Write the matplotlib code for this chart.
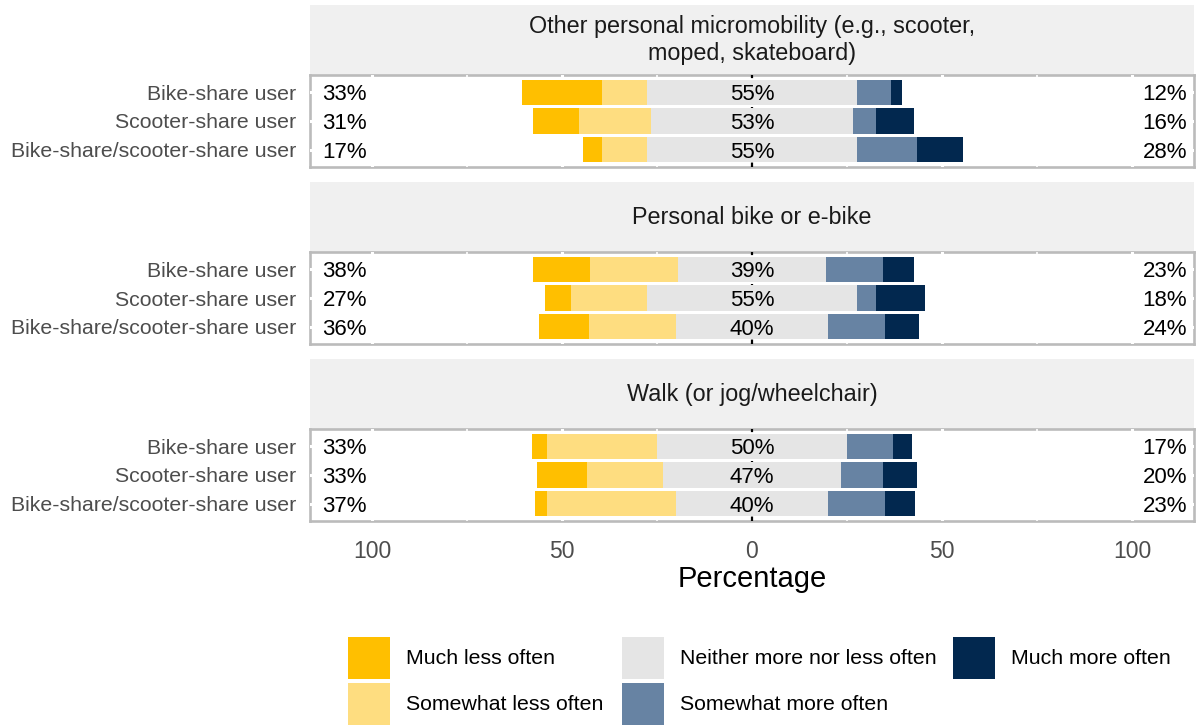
import numpy as np
import matplotlib.pyplot as plt
from matplotlib.patches import Rectangle

plt.rcParams['font.family'] = ['Liberation Sans', 'DejaVu Sans']

# Survey responses (percent of respondents), one row per panel, one column per user group
panels = ['Other personal micromobility (e.g., scooter,\nmoped, skateboard)',
          'Personal bike or e-bike',
          'Walk (or jog/wheelchair)']
groups = ['Bike-share user', 'Scooter-share user', 'Bike-share/scooter-share user']
levels = ['Much less often', 'Somewhat less often', 'Neither more nor less often',
          'Somewhat more often', 'Much more often']
colors = ['#FFBF00', '#FEDD80', '#E5E5E5', '#6783A3', '#02284F']

much_less = [[21, 12, 5], [15, 7, 13], [4, 13, 3]]
somewhat_less = [[12, 19, 12], [23, 20, 23], [29, 20, 34]]
neither = [[55, 53, 55], [39, 55, 40], [50, 47, 40]]
somewhat_more = [[9, 6, 16], [15, 5, 15], [12, 11, 15]]
much_more = [[3, 10, 12], [8, 13, 9], [5, 9, 8]]

W, H = 1198, 725
fig = plt.figure(figsize=(W / 100, H / 100), dpi=100)


def px_axes(x0, y0, x1, y1):
    return fig.add_axes([x0 / W, 1 - y1 / H, (x1 - x0) / W, (y1 - y0) / H])


strip_tops = [5, 182, 359]
strip_h = 70
panel_h = 92
x_left, x_right = 310, 1194
ypos = np.array([3, 2, 1])
fs = 16

for i, title in enumerate(panels):
    top = strip_tops[i]
    # facet strip
    sax = px_axes(x_left, top, x_right, top + strip_h)
    sax.set_facecolor('#F0F0F0')
    for s in sax.spines.values():
        s.set_visible(False)
    sax.set_xticks([])
    sax.set_yticks([])
    sax.text(0.5, 0.5, title, ha='center', va='center', fontsize=16.8,
             color='#1A1A1A', linespacing=1.22, transform=sax.transAxes)

    ax = px_axes(x_left, top + strip_h, x_right, top + strip_h + panel_h)
    ml = np.array(much_less[i])
    sl = np.array(somewhat_less[i])
    nn = np.array(neither[i])
    sm = np.array(somewhat_more[i])
    mm = np.array(much_more[i])

    h = 0.88
    ax.barh(ypos, nn, left=-nn / 2, height=h, color=colors[2], zorder=3)
    ax.barh(ypos, sl, left=-nn / 2 - sl, height=h, color=colors[1], zorder=3)
    ax.barh(ypos, ml, left=-nn / 2 - sl - ml, height=h, color=colors[0], zorder=3)
    ax.barh(ypos, sm, left=nn / 2, height=h, color=colors[3], zorder=3)
    ax.barh(ypos, mm, left=nn / 2 + sm, height=h, color=colors[4], zorder=3)

    for y, lo, mid, hi in zip(ypos, ml + sl, nn, sm + mm):
        ax.text(-113, y, f'{lo}%', ha='left', va='center_baseline', fontsize=fs,
                color='black', zorder=4)
        ax.text(0, y, f'{mid}%', ha='center', va='center_baseline', fontsize=fs,
                color='black', zorder=4)
        ax.text(114.5, y, f'{hi}%', ha='right', va='center_baseline', fontsize=fs,
                color='black', zorder=4)

    # white grid crossing the grey panel border
    for gx in [-100, -75, -50, -25, 25, 50, 75, 100]:
        ax.axvline(gx, color='white', lw=2.2 if gx % 50 == 0 else 1.2, zorder=2)
    for gy in ypos:
        ax.axhline(gy, color='white', lw=2.2, zorder=2)
    ax.axvline(0, color='black', lw=1.6, ls=(0, (2, 3)), zorder=2.5)

    ax.set_xlim(-116.3, 116.3)
    ax.set_ylim(0.4, 3.6)
    ax.set_yticks(ypos)
    ax.set_yticklabels(groups, fontsize=15.3, color='#4D4D4D')
    ax.tick_params(axis='y', length=0, pad=10)
    ax.set_xticks([-100, -50, 0, 50, 100])
    if i < 2:
        ax.tick_params(axis='x', length=0, labelbottom=False)
    else:
        ax.set_xticklabels(['100', '50', '0', '50', '100'], fontsize=16.5,
                           color='#4D4D4D')
        ax.tick_params(axis='x', length=0, pad=14)
        ax.set_xlabel('Percentage', fontsize=21, labelpad=1)
    for s in ax.spines.values():
        s.set_color('#BBBBBB')
        s.set_linewidth(1.9)
        s.set_zorder(1)

# legend drawn in pixel coordinates along the bottom
lax = px_axes(0, 620, W, H)
lax.set_xlim(0, W)
lax.set_ylim(H, 620)
lax.axis('off')
key_x = [348, 348, 622, 622, 953]
key_y = [637, 683, 637, 683, 637]
for lab, col, kx, ky in zip(levels, colors, key_x, key_y):
    lax.add_patch(Rectangle((kx, ky), 42, 42, facecolor=col, edgecolor='none',
                            clip_on=False))
    lax.text(kx + 58, ky + 22, lab, ha='left', va='center', fontsize=15.3,
             color='black')

fig.savefig('out.png', dpi=100)
